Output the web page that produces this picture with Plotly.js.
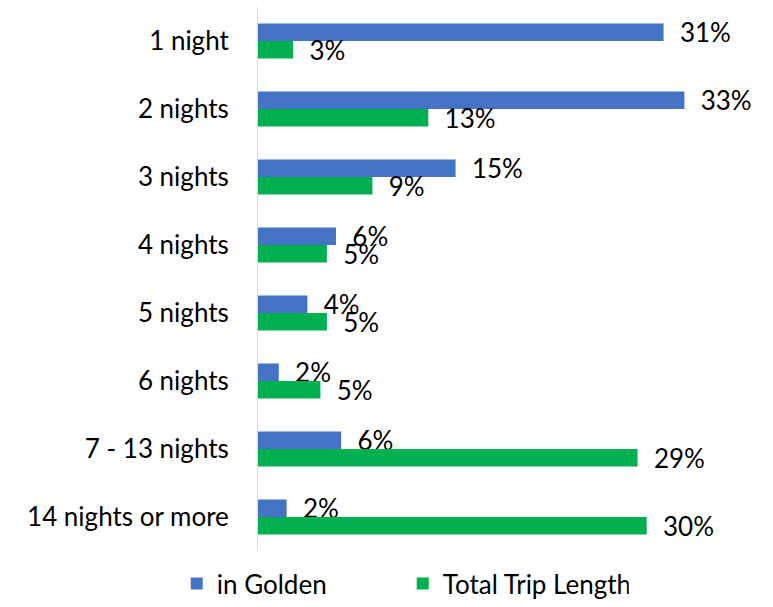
<!DOCTYPE html>
<html>
<head>
<meta charset="utf-8">
<script src="https://cdn.plot.ly/plotly-3.0.1.min.js"></script>
<style>html,body{margin:0;padding:0;background:#fff;}#chart{width:773px;height:607px;}</style>
</head>
<body>
<div id="chart"></div>
<script>
const categories = ["1 night", "2 nights", "3 nights", "4 nights", "5 nights", "6 nights", "7 - 13 nights", "14 nights or more"];
const inGolden = [31.2, 32.8, 15.2, 6.0, 3.8, 1.6, 6.4, 2.2];
const totalTripLength = [2.7, 13.1, 8.8, 5.3, 5.3, 4.8, 29.2, 29.9];
const seriesNames = ["in Golden", "Total Trip Length"];

const FONT = "Lato, 'Open Sans', sans-serif";
const FS = 26;
const traces = [
  {
    type: "bar", orientation: "h", name: seriesNames[0],
    y: categories, x: inGolden,
    marker: {color: "#4472C4"},
    texttemplate: "\u00a0\u00a0%{x:.0f}%", textposition: "outside", cliponaxis: false, constraintext: "none",
    textfont: {family: FONT, size: FS, color: "#000"},
    hoverinfo: "skip"
  },
  {
    type: "bar", orientation: "h", name: seriesNames[1],
    y: categories, x: totalTripLength,
    marker: {color: "#00B050"},
    texttemplate: "\u00a0\u00a0%{x:.0f}%", textposition: "outside", cliponaxis: false, constraintext: "none",
    textfont: {family: FONT, size: FS, color: "#000"},
    hoverinfo: "skip"
  }
];

const layout = {
  width: 773, height: 607,
  margin: {l: 258, r: 47, t: 7, b: 56, autoexpand: false},
  paper_bgcolor: "#fff", plot_bgcolor: "#fff",
  font: {family: FONT, size: FS, color: "#000"},
  barmode: "group", bargap: 0.485, bargroupgap: 0,
  showlegend: true,
  legend: {orientation: "h", xref: "container", x: 0.521, xanchor: "center", yref: "container", y: -0.024, yanchor: "bottom",
           entrywidth: 181, entrywidthmode: "pixels",
           font: {family: FONT, size: FS, color: "#000"}, traceorder: "normal"},
  xaxis: {range: [0, 36], automargin: false, showgrid: false, zeroline: false, showticklabels: false, showline: false, ticks: ""},
  yaxis: {autorange: "reversed", automargin: false, showgrid: false, zeroline: false, showline: true, linecolor: "#d9d9d9", linewidth: 1,
          ticks: "", ticklabelstandoff: 23, tickfont: {family: FONT, size: FS, color: "#000"}}
};

Plotly.newPlot("chart", traces, layout, {displayModeBar: false, staticPlot: true});
</script>
</body>
</html>
